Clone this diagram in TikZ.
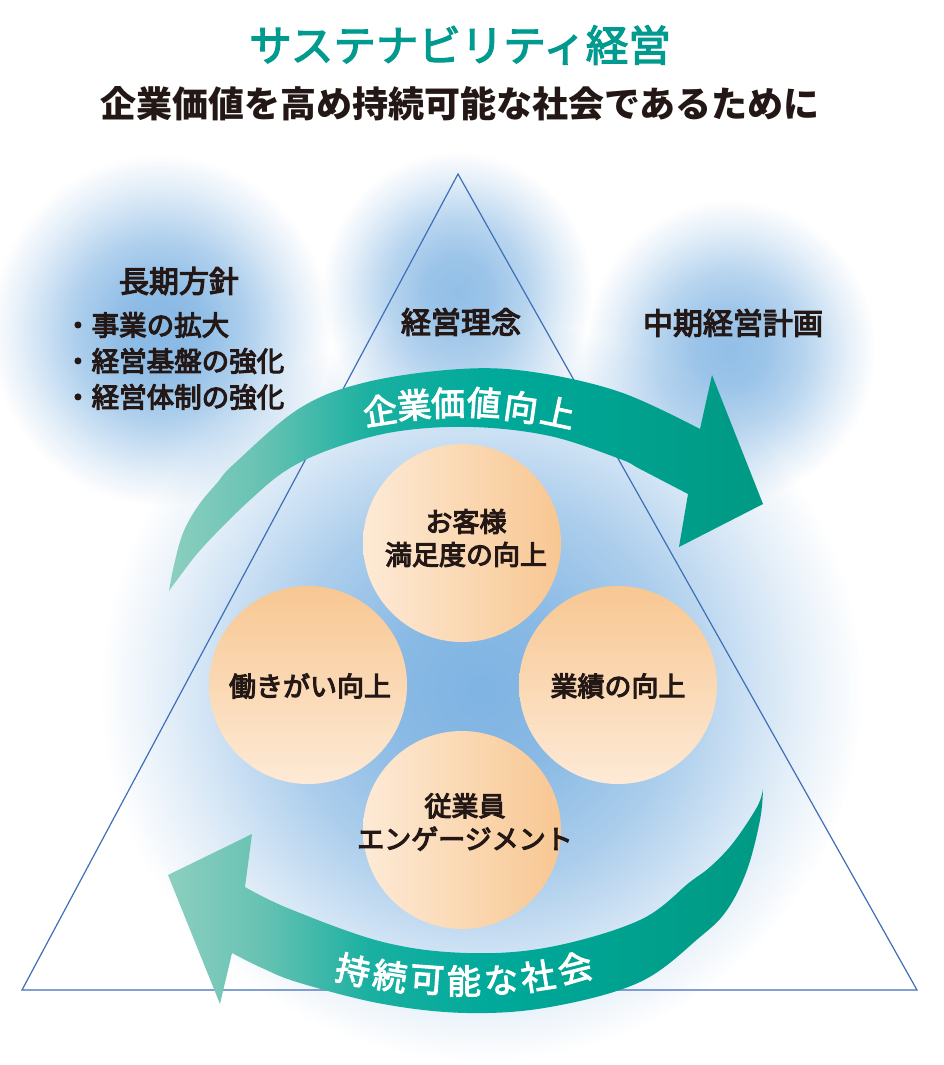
\documentclass[tikz,border=0pt]{standalone}
\usepackage{fontspec}
\setmainfont{Noto Sans CJK JP}
\newfontfamily\jpm[FakeBold=4]{Noto Sans CJK JP}
\newfontfamily\jpt[FakeBold=3]{Noto Sans CJK JP}
\usetikzlibrary{fadings}
\definecolor{titleteal}{RGB}{0,154,142}
\definecolor{ink}{HTML}{231815}
\definecolor{glowblue}{RGB}{128,180,227}
\definecolor{trline}{RGB}{63,111,184}
\definecolor{orD}{RGB}{248,199,146}
\definecolor{orL}{RGB}{253,234,214}
\pgfdeclareradialshading{glowshading}{\pgfpointorigin}{rgb(0bp)=(1,1,1); rgb(6bp)=(0.92,0.92,0.92); rgb(13bp)=(0.65,0.65,0.65); rgb(20bp)=(0.25,0.25,0.25); rgb(25bp)=(0,0,0); rgb(50bp)=(0,0,0)}
\pgfdeclarefading{glowfade}{\pgfuseshading{glowshading}}
\pgfdeclarehorizontalshading{arrowshading}{100bp}{rgb(0bp)=(0.55,0.81,0.75); rgb(25bp)=(0.55,0.81,0.75); rgb(33bp)=(0.40,0.76,0.70); rgb(42bp)=(0.10,0.69,0.63); rgb(52bp)=(0,0.665,0.605); rgb(75bp)=(0,0.60,0.515); rgb(100bp)=(0,0.60,0.515)}
\tikzset{
  glow/.style={glowblue, path fading=glowfade},
  tri/.style={draw=trline, line width=1.2pt, line join=miter},
  ballh/.style={circle, minimum size=198pt, inner sep=0pt, left color=orL, right color=orD},
  ballv/.style={circle, minimum size=198pt, inner sep=0pt, top color=orD, bottom color=orL},
  balltext/.style={text=ink, font=\jpm\fontsize{27}{33}\selectfont, align=center, inner sep=0pt},
  label/.style={text=ink, font=\jpm\fontsize{30}{36}\selectfont, inner sep=0pt},
  bullet/.style={text=ink, font=\jpm\fontsize{27.5}{33}\selectfont, inner sep=0pt, anchor=west},
  arrowtext/.style={text=white, font=\jpt\fontsize{34}{40}\selectfont, inner sep=0pt},
  arrowfill/.style={shading=arrowshading},
}
\begin{document}
\begin{tikzpicture}[x=1pt,y=-1pt]
\useasboundingbox (0,0) rectangle (944,1065);
\fill[white] (0,0) rectangle (944,1065);
% glows
\fill[glow, opacity=0.95] (160,330) ellipse (170 and 175);
\fill[glow, opacity=0.85] (457,292) ellipse (135 and 140);
\fill[glow, opacity=0.85] (730,350) ellipse (145 and 150);
\fill[glow] (482,690) ellipse (380 and 370);
% triangle
\coordinate (apex) at (458,174);
\coordinate (bl) at (22,990);
\coordinate (br) at (917,990);
\draw[tri] (apex) -- (bl) -- (br) -- cycle;
% top arrow
\shade[arrowfill] plot[smooth, tension=0.6] coordinates {(169,591) (174,565) (183,533) (198,506) (217,483) (235,463) (300,408) (367,382) (460,369) (533,372) (620,392) (700,429)}
  -- (712,375) -- (763,504) -- (679,547) --
  plot[smooth, tension=0.6] coordinates {(688,494) (640,469) (620,459) (550,436) (473,427) (400,431) (340,446) (290,468) (250,500) (203,547) (177,580) (169,591)} -- cycle;
% bottom arrow
\shade[arrowfill] plot[smooth, tension=0.6] coordinates {(763,789) (760,820) (747,870) (727,910) (700,937) (640,982) (550,1007) (467,1013) (383,1004) (300,983) (262,968) (232,953)}
  -- (220,1004) -- (168,875) -- (252,834) --
  plot[smooth, tension=0.6] coordinates {(245,887) (290,909) (383,942) (467,953) (550,947) (640,920) (690,882) (710,867) (733,843) (757,807) (763,789)} -- cycle;
% circles
\node[ballh] (c1) at (462,543) {};
\node[ballv] (c2) at (308,685) {};
\node[ballv] (c3) at (618,685) {};
\node[ballh] (c4) at (462,830) {};
\node[balltext] (t1) at (466,538) {お客様\\満足度の向上};
\node[balltext] (t2) at (310,686) {働きがい向上};
\node[balltext] (t3) at (618,686) {業績の向上};
\node[balltext] (t4) at (465,822) {従業員\\エンゲージメント};
% titles
\node[text=titleteal, font=\jpt\fontsize{42.5}{48}\selectfont, inner sep=0pt] (title) at (460,45) {サステナビリティ経営};
\node[text=ink, font=\bfseries\fontsize{36}{42}\selectfont, inner sep=0pt] (sub) at (460,104) {企業価値を高め持続可能な社会であるために};
% labels
\node[label] (lp) at (179,281) {長期方針};
\node[bullet] (b1) at (64,325) {・事業の拡大};
\node[bullet] (b2) at (64,361) {・経営基盤の強化};
\node[bullet] (b3) at (64,397) {・経営体制の強化};
\node[label] (ph) at (461,322) {経営理念};
\node[label] (mp) at (733,323) {中期経営計画};
% arrow texts
\node[arrowtext, rotate=9] (a1) at (380,410) {企};
\node[arrowtext, rotate=5] (a2) at (414,405) {業};
\node[arrowtext, rotate=1] (a3) at (448,403) {価};
\node[arrowtext, rotate=-4] (a4) at (484,403) {値};
\node[arrowtext, rotate=-8] (a5) at (521,407) {向};
\node[arrowtext, rotate=-12] (a6) at (558,412) {上};
\node[arrowtext, rotate=-13] (s1) at (353,970) {持};
\node[arrowtext, rotate=-9] (s2) at (390,976) {続};
\node[arrowtext, rotate=-4] (s3) at (427,980) {可};
\node[arrowtext, rotate=0] (s4) at (464,981) {能};
\node[arrowtext, rotate=4] (s5) at (501,980) {な};
\node[arrowtext, rotate=9] (s6) at (538,976) {社};
\node[arrowtext, rotate=14] (s7) at (575,968) {会};
\end{tikzpicture}
\end{document}
